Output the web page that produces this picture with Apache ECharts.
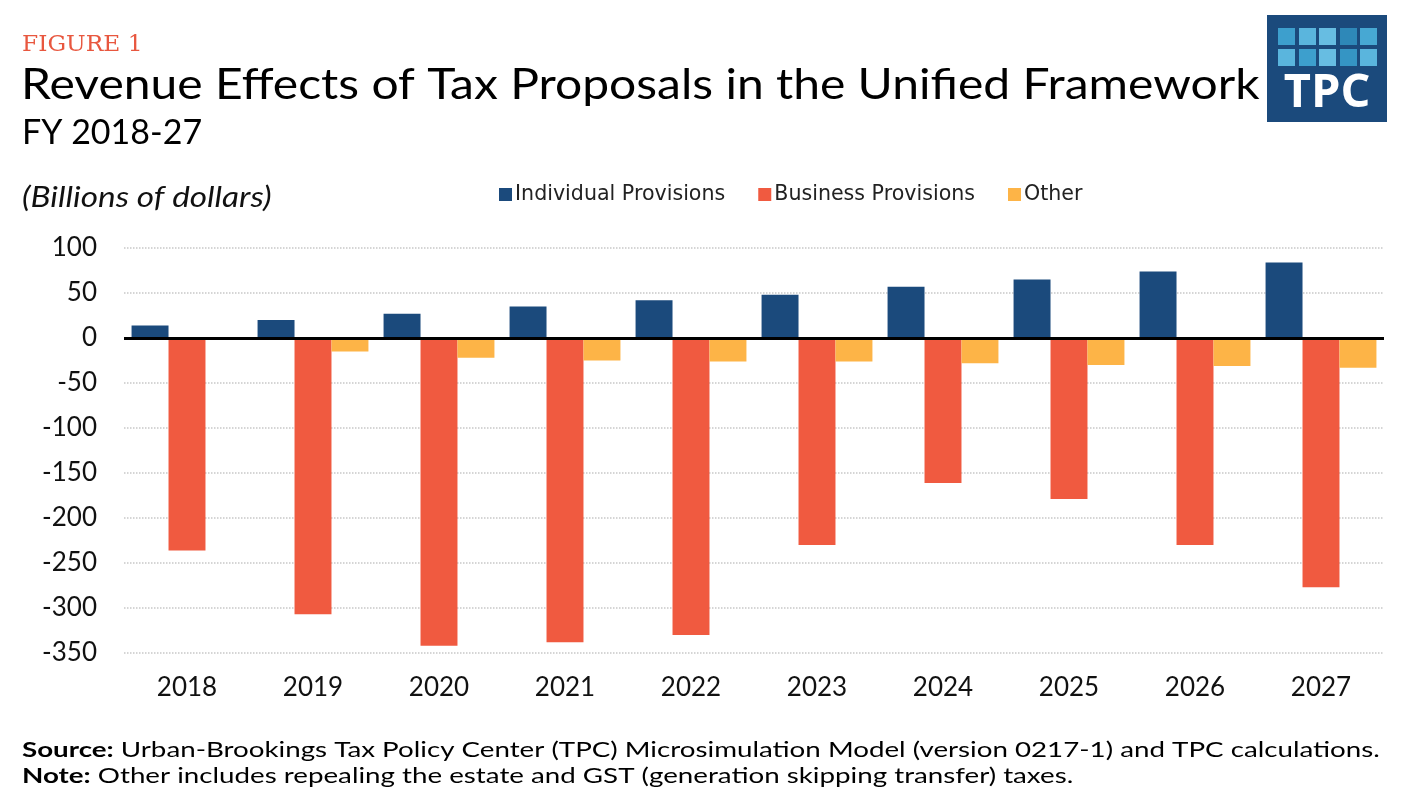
<!DOCTYPE html>
<html>
<head>
<meta charset="utf-8">
<script src="https://cdn.jsdelivr.net/npm/echarts@6/dist/echarts.min.js"></script>
<style>
html,body{margin:0;padding:0;background:#fff;}
#chart{width:1409px;height:809px;}
</style>
</head>
<body>
<div id="chart"></div>
<script>
const categories = ['2018','2019','2020','2021','2022','2023','2024','2025','2026','2027'];
const individual = [14, 20, 27, 35, 42, 48, 57, 65, 74, 84];
const business = [-236, -307, -342, -338, -330, -230, -161, -179, -230, -277];
const other = [0, -15, -22, -25, -26, -26, -28, -30, -31, -33];
const yTicks = {min: -350, max: 100, interval: 50};

const NAVY = '#1b4a7c', RED = '#f05a40', GOLD = '#fdb447';
const FONT = 'Lato';

const chart = echarts.init(document.getElementById('chart'), null, {renderer:'canvas'});

const logoCols = [1278, 1299, 1319, 1340, 1360];
const logoRows = [28, 49];
const logoColors = [
  ['#3d9fcd','#5ab5dd','#67bde2','#2e88b8','#47a8d3'],
  ['#5ab5dd','#3d9fcd','#67bde2','#3595c4','#5ab5dd']
];
const logoSquares = [];
logoRows.forEach((y, r) => logoCols.forEach((x, c) => {
  logoSquares.push({type:'rect', shape:{x:x, y:y, width:17, height:17}, style:{fill:logoColors[r][c]}, silent:true});
}));

function txt(x, y, text, size, opts, sx) {
  return {type:'text', x:x, y:y, scaleX:sx || 1, silent:true,
    style:Object.assign({text:text, fontFamily:FONT, fontSize:size, fill:'#000', align:'left', verticalAlign:'top'}, opts || {})};
}
const richFoot = {b:{fontWeight:'bold', fontSize:21, fontFamily:FONT, fill:'#000'}, n:{fontSize:21, fontFamily:FONT, fill:'#000'}};

chart.setOption({
  animation:false,
  backgroundColor:'#fff',
  textStyle:{fontFamily:FONT},
  grid:{left:124, right:25, top:248, bottom:156, containLabel:false},
  legend:{
    left:494, top:179, icon:'rect', itemWidth:13, itemHeight:13, itemGap:33,
    textStyle:{fontSize:20.6, color:'#222', fontFamily:'DejaVu Sans', padding:[0,0,0,-2]},
    data:['Individual Provisions','Business Provisions','Other']
  },
  xAxis:{
    type:'category', data:categories,
    axisLine:{show:false, onZero:false}, axisTick:{show:false},
    axisLabel:{fontSize:26, color:'#111', margin:22, fontFamily:FONT}
  },
  yAxis:{
    type:'value', min:yTicks.min, max:yTicks.max, interval:yTicks.interval,
    axisLine:{show:false}, axisTick:{show:false},
    axisLabel:{fontSize:26, color:'#111', margin:27, fontFamily:FONT},
    splitLine:{lineStyle:{type:'dotted', color:'#c8c8c8', width:1.5}}
  },
  series:[
    {name:'Individual Provisions', type:'bar', data:individual, itemStyle:{color:NAVY},
     barGap:'0%', barCategoryGap:'12%',
     markLine:{silent:true, symbol:['none','none'], label:{show:false},
       lineStyle:{color:'#000', width:3, type:'solid'}, data:[{yAxis:0}]}},
    {name:'Business Provisions', type:'bar', data:business, itemStyle:{color:RED}, barGap:'0%', barCategoryGap:'12%'},
    {name:'Other', type:'bar', data:other, itemStyle:{color:GOLD}, barGap:'0%', barCategoryGap:'12%'}
  ],
  graphic:[
    txt(22, 34, 'FIGURE 1', 22, {fontFamily:'DejaVu Serif', fill:'#e8573f'}, 1.06),
    txt(21, 64, 'Revenue Effects of Tax Proposals in the Unified Framework', 42, null, 1.143),
    txt(22, 116, 'FY 2018-27', 34),
    txt(22, 184, '(Billions of dollars)', 28, {fontStyle:'italic', fill:'#111'}, 1.19),
    {type:'rect', shape:{x:1267, y:15, width:120, height:107}, style:{fill:NAVY}, silent:true},
    ...logoSquares,
    {type:'text', x:1327, y:94, silent:true, style:{text:'TPC', fontFamily:'Open Sans', fontWeight:'bold', fontSize:47, fill:'#fff', align:'center', verticalAlign:'middle'}},
    txt(22, 740, '{b|Source:} {n|Urban-Brookings Tax Policy Center (TPC) Microsimulation Model (version 0217-1) and TPC calculations.}', 21, {rich:richFoot}, 1.32),
    txt(22, 766, '{b|Note:} {n|Other includes repealing the estate and GST (generation skipping transfer) taxes.}', 21, {rich:richFoot}, 1.32)
  ]
});
</script>
</body>
</html>
